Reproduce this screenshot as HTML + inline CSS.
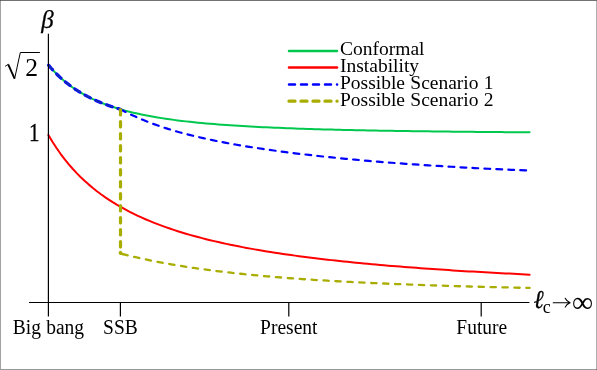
<!DOCTYPE html>
<html><head><meta charset="utf-8">
<style>
html,body{margin:0;padding:0;background:#fff;}
body{width:597px;height:370px;overflow:hidden;position:relative;font-family:"Liberation Serif",serif;}
svg{position:absolute;left:0;top:0;}
text{font-family:"Liberation Serif",serif;fill:#000;}
</style></head><body>
<svg width="597" height="370" viewBox="0 0 597 370">

<rect x="0" y="0" width="1" height="370" fill="#a2a2a2"/>
<rect x="596" y="0" width="1" height="370" fill="#b0b0b0"/>
<rect x="0" y="369" width="597" height="1" fill="#999"/>
<rect x="0" y="0" width="597" height="1" fill="#727272"/>
<rect x="0" y="0" width="1" height="1" fill="#585858"/>
<rect x="596" y="369" width="1" height="1" fill="#6c6c6c"/>
<g fill="none" stroke-linecap="round" stroke-linejoin="round">
<path d="M48.40,64.94 L52.44,69.62 L56.49,73.87 L60.53,77.74 L64.57,81.27 L68.62,84.50 L72.66,87.46 L76.71,90.18 L80.75,92.68 L84.79,94.99 L88.84,97.12 L92.88,99.10 L96.92,100.93 L100.97,102.62 L105.01,104.20 L109.06,105.67 L113.10,107.04 L117.14,108.32 L121.19,109.52 L125.23,110.64 L129.27,111.69 L133.32,112.68 L137.36,113.60 L141.41,114.47 L145.45,115.29 L149.49,116.07 L153.54,116.80 L157.58,117.48 L161.62,118.13 L165.67,118.75 L169.71,119.33 L173.75,119.88 L177.80,120.41 L181.84,120.90 L185.89,121.37 L189.93,121.82 L193.97,122.25 L198.02,122.65 L202.06,123.04 L206.10,123.41 L210.15,123.76 L214.19,124.09 L218.24,124.41 L222.28,124.72 L226.32,125.01 L230.37,125.29 L234.41,125.56 L238.45,125.82 L242.50,126.06 L246.54,126.30 L250.58,126.52 L254.63,126.74 L258.67,126.95 L262.72,127.15 L266.76,127.34 L270.80,127.52 L274.85,127.70 L278.89,127.87 L282.93,128.03 L286.98,128.19 L291.02,128.34 L295.07,128.49 L299.11,128.63 L303.15,128.77 L307.20,128.90 L311.24,129.03 L315.28,129.15 L319.33,129.27 L323.37,129.38 L327.42,129.49 L331.46,129.60 L335.50,129.70 L339.55,129.80 L343.59,129.90 L347.63,129.99 L351.68,130.09 L355.72,130.17 L359.76,130.26 L363.81,130.34 L367.85,130.42 L371.90,130.50 L375.94,130.57 L379.98,130.65 L384.03,130.72 L388.07,130.79 L392.11,130.85 L396.16,130.92 L400.20,130.98 L404.25,131.04 L408.29,131.10 L412.33,131.16 L416.38,131.21 L420.42,131.27 L424.46,131.32 L428.51,131.37 L432.55,131.42 L436.59,131.47 L440.64,131.52 L444.68,131.57 L448.73,131.61 L452.77,131.65 L456.81,131.70 L460.86,131.74 L464.90,131.78 L468.94,131.82 L472.99,131.86 L477.03,131.90 L481.08,131.93 L485.12,131.97 L489.16,132.00 L493.21,132.04 L497.25,132.07 L501.29,132.10 L505.34,132.13 L509.38,132.17 L513.43,132.20 L517.47,132.23 L521.51,132.25 L525.56,132.28 L529.60,132.31" stroke="#00c84e" stroke-width="2.0"/>
<path d="M48.40,135.06 L52.44,141.81 L56.49,148.03 L60.53,153.79 L64.57,159.14 L68.62,164.12 L72.66,168.77 L76.71,173.11 L80.75,177.19 L84.79,181.02 L88.84,184.62 L92.88,188.01 L96.92,191.22 L100.97,194.25 L105.01,197.12 L109.06,199.84 L113.10,202.43 L117.14,204.89 L121.19,207.23 L125.23,209.47 L129.27,211.60 L133.32,213.63 L137.36,215.58 L141.41,217.44 L145.45,219.23 L149.49,220.94 L153.54,222.58 L157.58,224.16 L161.62,225.68 L165.67,227.14 L169.71,228.55 L173.75,229.90 L177.80,231.21 L181.84,232.47 L185.89,233.68 L189.93,234.86 L193.97,235.99 L198.02,237.09 L202.06,238.15 L206.10,239.18 L210.15,240.17 L214.19,241.14 L218.24,242.07 L222.28,242.98 L226.32,243.86 L230.37,244.71 L234.41,245.54 L238.45,246.35 L242.50,247.13 L246.54,247.90 L250.58,248.64 L254.63,249.36 L258.67,250.06 L262.72,250.75 L266.76,251.41 L270.80,252.06 L274.85,252.69 L278.89,253.31 L282.93,253.91 L286.98,254.50 L291.02,255.07 L295.07,255.63 L299.11,256.18 L303.15,256.71 L307.20,257.24 L311.24,257.75 L315.28,258.24 L319.33,258.73 L323.37,259.21 L327.42,259.68 L331.46,260.13 L335.50,260.58 L339.55,261.02 L343.59,261.44 L347.63,261.86 L351.68,262.27 L355.72,262.68 L359.76,263.07 L363.81,263.46 L367.85,263.84 L371.90,264.21 L375.94,264.57 L379.98,264.93 L384.03,265.28 L388.07,265.63 L392.11,265.97 L396.16,266.30 L400.20,266.62 L404.25,266.94 L408.29,267.26 L412.33,267.57 L416.38,267.87 L420.42,268.17 L424.46,268.46 L428.51,268.75 L432.55,269.03 L436.59,269.31 L440.64,269.58 L444.68,269.85 L448.73,270.12 L452.77,270.38 L456.81,270.63 L460.86,270.89 L464.90,271.13 L468.94,271.38 L472.99,271.62 L477.03,271.85 L481.08,272.09 L485.12,272.32 L489.16,272.54 L493.21,272.76 L497.25,272.98 L501.29,273.20 L505.34,273.41 L509.38,273.62 L513.43,273.83 L517.47,274.03 L521.51,274.23 L525.56,274.43 L529.60,274.63" stroke="#ff0000" stroke-width="2.0"/>
<path d="M48.40,64.94 L51.40,68.46 L54.40,71.73 L57.40,74.78 L60.40,77.62 L63.40,80.28 L66.40,82.77 L69.40,85.09 L72.40,87.28 L75.40,89.33 L78.40,91.26 L81.40,93.07 L84.40,94.78 L87.40,96.39 L90.40,97.91 L93.40,99.34 L96.40,100.70 L99.40,101.98 L102.40,103.20 L105.40,104.35 L108.40,105.44 L111.40,106.48 L114.40,107.47 L117.40,108.40 L120.40,109.29" stroke="#0000ff" stroke-width="3.2" stroke-dasharray="5.9 5.95" stroke-dashoffset="-0.4"/>
<path d="M48.40,64.94 L51.40,68.46 L54.40,71.73 L57.40,74.78 L60.40,77.62 L63.40,80.28 L66.40,82.77 L69.40,85.09 L72.40,87.28 L75.40,89.33 L78.40,91.26 L81.40,93.07 L84.40,94.78 L87.40,96.39 L90.40,97.91 L93.40,99.34 L96.40,100.70 L99.40,101.98 L102.40,103.20 L105.40,104.35 L108.40,105.44 L111.40,106.48 L114.40,107.47 L117.40,108.40 L120.40,109.29" stroke="#1c3c9c" stroke-width="1.2" stroke-dasharray="5.9 5.95" stroke-dashoffset="-0.4"/>
<path d="M120.40,109.30 L125.00,111.66 L129.60,113.92 L134.19,116.08 L138.79,118.13 L143.39,120.07 L147.99,121.91 L152.58,123.65 L157.18,125.31 L161.78,126.88 L166.38,128.37 L170.98,129.79 L175.57,131.15 L180.17,132.44 L184.77,133.68 L189.37,134.86 L193.96,136.00 L198.56,137.09 L203.16,138.13 L207.76,139.14 L212.36,140.11 L216.95,141.05 L221.55,141.96 L226.15,142.83 L230.75,143.68 L235.34,144.50 L239.94,145.30 L244.54,146.07 L249.14,146.82 L253.73,147.55 L258.33,148.26 L262.93,148.95 L267.53,149.62 L272.13,150.27 L276.72,150.90 L281.32,151.52 L285.92,152.13 L290.52,152.72 L295.11,153.29 L299.71,153.86 L304.31,154.40 L308.91,154.94 L313.51,155.46 L318.10,155.97 L322.70,156.47 L327.30,156.96 L331.90,157.44 L336.49,157.90 L341.09,158.36 L345.69,158.80 L350.29,159.24 L354.89,159.66 L359.48,160.08 L364.08,160.49 L368.68,160.89 L373.28,161.28 L377.87,161.66 L382.47,162.03 L387.07,162.40 L391.67,162.75 L396.27,163.10 L400.86,163.45 L405.46,163.78 L410.06,164.11 L414.66,164.43 L419.25,164.74 L423.85,165.05 L428.45,165.35 L433.05,165.65 L437.64,165.94 L442.24,166.22 L446.84,166.49 L451.44,166.76 L456.04,167.03 L460.63,167.29 L465.23,167.54 L469.83,167.79 L474.43,168.03 L479.02,168.27 L483.62,168.51 L488.22,168.73 L492.82,168.96 L497.42,169.18 L502.01,169.39 L506.61,169.60 L511.21,169.81 L515.81,170.01 L520.40,170.20 L525.00,170.40 L529.60,170.59" stroke="#0000ff" stroke-width="2.2" stroke-dasharray="5.8 6.17" stroke-dashoffset="0"/>
<path d="M120.50,253.51 L125.10,254.67 L129.69,255.80 L134.29,256.88 L138.89,257.93 L143.48,258.93 L148.08,259.91 L152.68,260.85 L157.27,261.75 L161.87,262.63 L166.47,263.47 L171.06,264.29 L175.66,265.08 L180.26,265.84 L184.85,266.58 L189.45,267.29 L194.05,267.98 L198.64,268.64 L203.24,269.28 L207.84,269.90 L212.43,270.50 L217.03,271.09 L221.63,271.65 L226.22,272.19 L230.82,272.72 L235.42,273.23 L240.01,273.72 L244.61,274.20 L249.21,274.66 L253.80,275.11 L258.40,275.54 L263.00,275.97 L267.59,276.37 L272.19,276.77 L276.79,277.15 L281.38,277.52 L285.98,277.89 L290.58,278.24 L295.17,278.58 L299.77,278.91 L304.37,279.23 L308.96,279.54 L313.56,279.84 L318.16,280.13 L322.75,280.42 L327.35,280.69 L331.94,280.96 L336.54,281.23 L341.14,281.48 L345.73,281.73 L350.33,281.97 L354.93,282.21 L359.52,282.43 L364.12,282.66 L368.72,282.87 L373.31,283.08 L377.91,283.29 L382.51,283.49 L387.10,283.69 L391.70,283.88 L396.30,284.06 L400.89,284.24 L405.49,284.42 L410.09,284.59 L414.68,284.76 L419.28,284.93 L423.88,285.09 L428.47,285.24 L433.07,285.40 L437.67,285.55 L442.26,285.69 L446.86,285.84 L451.46,285.98 L456.05,286.12 L460.65,286.25 L465.25,286.38 L469.84,286.51 L474.44,286.63 L479.04,286.76 L483.63,286.88 L488.23,287.00 L492.83,287.11 L497.42,287.23 L502.02,287.34 L506.62,287.45 L511.21,287.55 L515.81,287.66 L520.41,287.76 L525.00,287.86 L529.60,287.96" stroke="#a8ad00" stroke-width="2.3" stroke-dasharray="5.3 6.64" stroke-dashoffset="-2.1"/>
<path d="M120.5,253.4 L123,254.1" stroke="#a8ad00" stroke-width="2.3"/>
<path d="M120.5,109.0 V253.4" stroke="#a8ad00" stroke-width="3.2" stroke-dasharray="5.4 6.6" stroke-dashoffset="-0.6"/>
<path d="M120.45,252.3 V253.3" stroke="#a8ad00" stroke-width="3.2"/>
<path d="M289,50.95 H337.0" stroke="#00c84e" stroke-width="2.5"/>
<path d="M289,67.5 H337.0" stroke="#ff0000" stroke-width="2.5"/>
<path d="M289,84.5 H337.1" stroke="#0000ff" stroke-width="2.5" stroke-dasharray="6 6"/>
<path d="M289,101.15 H337.1" stroke="#a8ad00" stroke-width="3.3" stroke-dasharray="6 6"/>
</g>
<g stroke="#000" stroke-width="1.2" fill="none">
<path d="M48.4,33.8 V302.5"/>
<path d="M29,302.5 H529.4"/>
<path d="M48.4,302.5 V316.5 M120.4,302.5 V316.5 M288.8,302.5 V316.5 M481.2,302.5 V316.5"/>
</g>
<g style="will-change:transform">
<g font-size="19.5px" word-spacing="0.4px">
<text x="340" y="55.4">Conformal</text>
<text x="340" y="72.3">Instability</text>
<text x="340" y="89.2">Possible Scenario 1</text>
<text x="340" y="106.1">Possible Scenario 2</text>
<text x="48.4" y="333.8" text-anchor="middle" transform="matrix(1 0 0 1.04 0 -13.352)">Big bang</text>
<text x="120.4" y="333.8" text-anchor="middle" transform="matrix(1 0 0 1.04 0 -13.352)">SSB</text>
<text x="288.8" y="333.8" text-anchor="middle" transform="matrix(1 0 0 1.04 0 -13.352)">Present</text>
<text x="481.8" y="333.8" text-anchor="middle" transform="matrix(1 0 0 1.04 0 -13.352)">Future</text>
</g>
<text id="beta" x="41.3" y="27.7" font-size="25px" font-style="italic" stroke="#000" stroke-width="0.25">β</text>
<text id="one" x="28" y="141.4" font-size="25.6px" stroke="#000" stroke-width="0.3" transform="matrix(0.82 0 0 1 6.1 0)">1</text>
<text id="two" x="25.2" y="76.2" font-size="25.6px">2</text>
<path d="M5.1,66.4 L8.4,64.2" fill="none" stroke="#000" stroke-width="0.9"/>
<path d="M8.2,64.4 L14.6,78.6" fill="none" stroke="#000" stroke-width="1.9"/>
<path d="M14.6,78.8 L20.3,52.5 H39.9" fill="none" stroke="#000" stroke-width="1.0"/>
<text id="ell" x="533" y="308.5" font-size="25.6px" font-style="italic" stroke="#000" stroke-width="0.3" transform="matrix(0.93 0 0 1 37.7 0)">ℓ</text>
<text id="c" x="542.8" y="312.8" font-size="18px">c</text>
<path id="arr" d="M553.2,302.7 H569.6 M565.2,298.3 Q566.6,301.4 570.1,302.7 Q566.6,304 565.2,307.1" fill="none" stroke="#000" stroke-width="1.05" stroke-linecap="round" stroke-linejoin="round"/>
<text id="inf" x="572.0" y="311.6" font-size="29.6px">∞</text>
</g>
</svg>
</body></html>
